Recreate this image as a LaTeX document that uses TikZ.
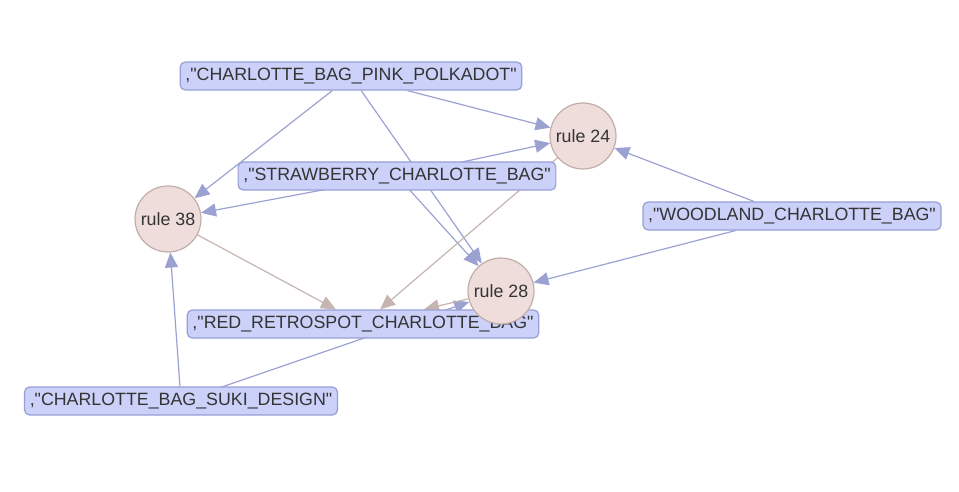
\documentclass[tikz,border=0pt]{standalone}
\usepackage{fontspec}
\setmainfont{Liberation Sans}
\usetikzlibrary{arrows.meta, backgrounds}
\definecolor{ItemFill}{HTML}{CBD1F8}
\definecolor{ItemLine}{HTML}{979FD6}
\definecolor{RuleFill}{HTML}{EEDDDB}
\definecolor{RuleLine}{HTML}{C2ADAA}
\definecolor{EdgeIn}{HTML}{9BA2D2}
\definecolor{EdgeOut}{HTML}{C6B4B1}
\definecolor{LabelText}{HTML}{343434}
\newcommand{\qt}{\textquotedbl}

\begin{document}
\begin{tikzpicture}[x=0.5pt, y=-0.5pt,
  item/.style={draw=ItemLine, fill=ItemFill, rounded corners=2.5pt, line width=0.6pt,
    minimum height=14pt, inner xsep=2.6pt, inner ysep=0pt,
    text=LabelText, font=\fontsize{8.9}{10}\selectfont},
  rule/.style={circle, draw=RuleLine, fill=RuleFill, line width=0.6pt,
    minimum size=33pt, inner sep=0pt,
    text=LabelText, font=\fontsize{8.9}{10}\selectfont},
  toRule/.style={draw=EdgeIn, line width=0.6pt, -{Triangle[length=7.5pt, width=6.5pt]}},
  fromRule/.style={draw=EdgeOut, line width=0.6pt, -{Triangle[length=7.5pt, width=6.5pt]}}]
\useasboundingbox (0,0) rectangle (959,492);
% --- items ---
\node[item] (pink) at (351,76) {,\qt CHARLOTTE\_BAG\_PINK\_POLKADOT\qt};
\node[item] (straw) at (397,176) {,\qt STRAWBERRY\_CHARLOTTE\_BAG\qt};
\node[item] (wood) at (792,216) {,\qt WOODLAND\_CHARLOTTE\_BAG\qt};
\node[item] (red) at (363,324) {,\qt RED\_RETROSPOT\_CHARLOTTE\_BAG\qt};
\node[item] (suki) at (181,401) {,\qt CHARLOTTE\_BAG\_SUKI\_DESIGN\qt};
% --- rules ---
\node[rule] (r24) at (583,136) {rule 24};
\node[rule] (r38) at (168,219) {rule 38};
\node[rule] (r28) at (501,291) {rule 28};
% --- edges, behind the nodes ---
\begin{scope}[on background layer]
\draw[toRule] (pink) -- (r38);
\draw[toRule] (pink) -- (r24);
\draw[toRule] (pink) -- (r28);
\draw[toRule] (straw.center) -- (r24);
\draw[toRule] (straw.center) -- (r38);
\draw[toRule] (straw.center) -- (r28);
\draw[toRule] (wood) -- (r24);
\draw[toRule] (wood) -- (r28);
\draw[toRule] (suki) -- (r38);
\draw[toRule] (suki.center) -- (r28);
% rules to consequent
\draw[fromRule] (r38) -- (red);
\draw[fromRule] (r24.center) -- (red);
\draw[fromRule] (r28) -- (red);
\end{scope}
\end{tikzpicture}
\end{document}
